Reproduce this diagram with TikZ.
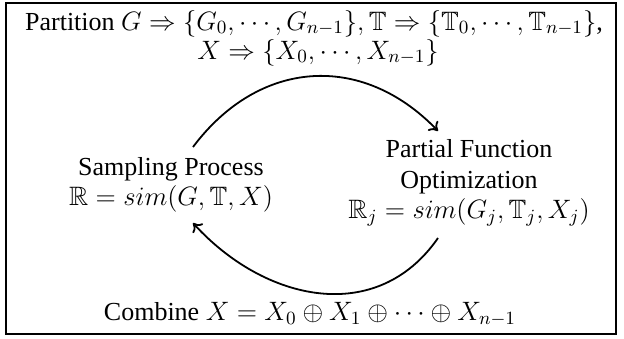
\RequirePackage{fix-cm}
\documentclass[tikz,border=0pt]{standalone}
\usepackage{amssymb}
\usepackage{fontspec}
\setmainfont{Liberation Serif}[Scale=0.977]
\usetikzlibrary{arrows.meta}
\begin{document}
\begin{tikzpicture}[x=0.5pt,y=-0.5pt,
  txt/.style={font=\fontsize{13.3}{15.3}\selectfont, inner sep=0pt, align=center},
  flow/.style={line width=0.9pt, -{To[length=4pt,width=7pt]}}]
\useasboundingbox (0,0) rectangle (624,338);
\node[draw, line width=1.3pt, minimum width=305pt, minimum height=165.5pt, inner sep=0pt] (frame) at (311,168.5) {};
\node[txt, anchor=base] (top1) at (314,30) {Partition $G\Rightarrow\{G_0,\cdots,G_{n-1}\}, \mathbb{T}\Rightarrow\{\mathbb{T}_0,\cdots,\mathbb{T}_{n-1}\}$,};
\node[txt, anchor=base] (top2) at (318,59) {$X\Rightarrow\{X_0,\cdots,X_{n-1}\}$};
\node[txt] (sp) at (171,185) {Sampling Process\\ $\mathbb{R}=sim(G,\mathbb{T},X)$};
\node[txt] (pf) at (469,183) {Partial Function\\ Optimization\\ $\mathbb{R}_j=sim(G_j,\mathbb{T}_j,X_j)$};
\node[txt, anchor=base] (comb) at (310,320) {Combine $X=X_0\oplus X_1\oplus\cdots\oplus X_{n-1}$};
\draw[flow] ([shift={(22,-38)}]sp.center) .. controls +(66,-88) and +(-76,-79) .. ([shift={(-31,-52)}]pf.center);
\draw[flow] ([shift={(-31,55)}]pf.center) .. controls +(-61,88) and +(72,79) .. ([shift={(22,38)}]sp.center);
\end{tikzpicture}
\end{document}
